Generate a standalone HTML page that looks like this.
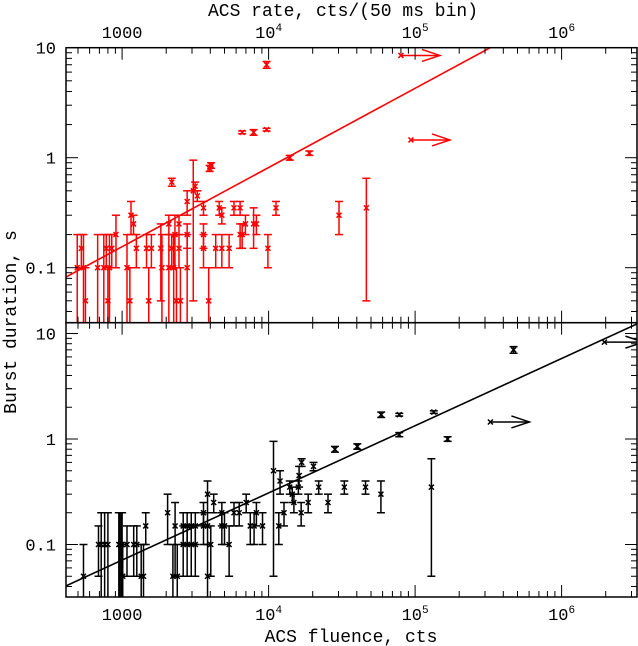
<!DOCTYPE html>
<html><head><meta charset="utf-8"><style>
body{margin:0;background:#fff;}
svg{display:block;font-family:"Liberation Mono",monospace;}
</style></head><body>
<svg id="chart" width="638" height="646" viewBox="0 0 638 646" xmlns="http://www.w3.org/2000/svg">
<g id="g"></g>
</svg>
<script>
// Top panel (red): ACS rate vs duration: [x, y, err]
const rateX = [494,527,545,562,681,750,780,800,820,850,908,1080,1150,1197,1251,1130,1468,1520,1585,1838,1870,2085,2085,2183,2183,2250,2295,2350,2445,2445,2500,2780,2780,2780,3060,3150,3263,3594,3594,3594,3956,4050,3900,4355,4600,4796,4796,5376,5805,6390,6390,6600,6950,6600,7900,7900,8255,9690,9690,9890,11230,13950,18970,30250,46480];
const rateY = [0.1,0.15,0.1,0.05,0.1,0.1,0.15,0.05,0.1,0.15,0.2,0.1,0.3,0.25,0.15,0.05,0.15,0.05,0.15,0.15,0.1,0.25,0.1,0.6,0.15,0.1,0.2,0.05,0.25,0.15,0.05,0.4,0.2,0.1,0.5,0.55,0.45,0.35,0.2,0.15,0.8,0.85,0.05,0.15,0.35,0.3,0.15,0.15,0.35,0.35,0.2,1.7,0.25,0.2,1.7,0.25,0.25,1.8,7,0.15,0.35,1.0,1.1,0.3,0.35];
const rateErr = [0.1,0.05,0.1,0.05,0.1,0.1,0.05,0.05,0.1,0.05,0.1,0.1,0.1,0.05,0.05,0.05,0.05,0.05,0.05,0.1,0.1,0.05,0.1,0.05,0.05,0.1,0.1,0.05,0.05,0.05,0.05,0.1,0.05,0.1,0.45,0.05,0.05,0.05,0.05,0.05,0.05,0.05,0.05,0.05,0.05,0.05,0.05,0.05,0.05,0.05,0.05,0.05,0.05,0.05,0.1,0.1,0.05,0.05,0.5,0.05,0.05,0.05,0.05,0.1,0.3];
const rateLimX = [80000,93700];
const rateLimY = [8.5,1.45];
const rateFit = [0.72, -1.085, 2.617]; // slope, logy at logx0, logx0

// Bottom panel (black): ACS fluence vs duration
const fluX = [545,690,720,760,800,950,970,990,1010,1000,1080,1200,1260,1350,1400,1450,2045,2222,2300,2380,2612,2612,2780,2780,2965,2965,3160,3160,3594,3594,3830,3830,3830,4030,4220,4796,4796,5000,5376,5805,6300,7030,7500,7960,8255,9090,10800,11740,11970,12740,13950,14500,14880,15960,16150,16680,16800,18630,20250,21980,25440,28360,32880,40310,45890,58440,58700,77960,77960,129200,134200,166700,470000];
const fluY = [0.05,0.1,0.1,0.1,0.1,0.1,0.1,0.1,0.05,0.1,0.1,0.1,0.1,0.05,0.05,0.15,0.2,0.05,0.15,0.05,0.15,0.1,0.1,0.15,0.1,0.15,0.1,0.15,0.15,0.2,0.3,0.05,0.15,0.1,0.25,0.15,0.2,0.15,0.1,0.2,0.2,0.25,0.15,0.15,0.2,0.15,0.5,0.15,0.4,0.2,0.35,0.3,0.25,0.35,0.45,0.2,0.6,0.25,0.55,0.35,0.25,0.8,0.35,0.85,0.35,0.3,1.7,1.7,1.1,0.35,1.8,1.0,7];
const fluErr = [0.05,0.05,0.1,0.1,0.1,0.1,0.1,0.1,0.05,0.1,0.05,0.05,0.05,0.05,0.05,0.05,0.1,0.05,0.1,0.05,0.05,0.05,0.05,0.05,0.05,0.05,0.05,0.05,0.05,0.05,0.1,0.05,0.05,0.05,0.05,0.05,0.05,0.05,0.05,0.05,0.05,0.05,0.05,0.05,0.05,0.05,0.45,0.05,0.1,0.05,0.05,0.05,0.05,0.05,0.1,0.05,0.05,0.05,0.05,0.05,0.05,0.05,0.05,0.05,0.05,0.1,0.1,0.05,0.05,0.3,0.05,0.05,0.5];
const fluLimX = [326600,1960000];
const fluLimY = [1.45,8.28];
const fluFit = [0.637, -1.392, 2.617];

const xTicks = ["1000","10^4","10^5","10^6"];
const yTicks = ["0.1","1","10"];

const NS="http://www.w3.org/2000/svg";
const G=document.getElementById('g');
function el(tag,attrs,parent){const e=document.createElementNS(NS,tag);for(const k in attrs)e.setAttribute(k,attrs[k]);(parent||G).appendChild(e);return e;}

const L=66,R=637;
function X(v){return 268.6+(Math.log10(v)-4)*146.5;}
const panels=[
 {top:47.7,bot:322.7,y1:157.7,dec:110,color:'#ff0000',xs:rateX,ys:rateY,es:rateErr,lx:rateLimX,ly:rateLimY,fit:rateFit,name:'rate'},
 {top:322.7,bot:597,y1:439,dec:105.5,color:'#000000',xs:fluX,ys:fluY,es:fluErr,lx:fluLimX,ly:fluLimY,fit:fluFit,name:'fluence'}
];

panels.forEach((p,pi)=>{
 const Y=v=>p.y1-Math.log10(v)*p.dec;
 const clip=el('clipPath',{id:'c'+pi});
 el('rect',{x:L,y:p.top,width:R-L,height:p.bot-p.top},clip);
 const pg=el('g',{'clip-path':'url(#c'+pi+')'});
 
 
 const fx0=(L-268.6)/146.5+4, fx1=(R-268.6)/146.5+4;
 const fy=lx=>Math.pow(10,p.fit[1]+p.fit[0]*(lx-p.fit[2]));
 const fl=el('line',{x1:L,y1:Y(fy(fx0)),x2:R,y2:Y(fy(fx1)),stroke:p.color,'stroke-width':1.6},pg);
 
 
 p.xs.forEach((xv,i)=>{
  const cx=X(xv), yv=p.ys[i], e=p.es[i];
  const yt=Y(yv+e); const lo=yv-e; const yb=lo>0?Y(lo):p.bot+5;
  const g=el('g',{stroke:p.color,'stroke-width':1.5,fill:'none'},pg);
  
  
  el('line',{x1:cx,y1:yt,x2:cx,y2:yb},g);
  el('line',{x1:cx-4,y1:yt,x2:cx+4,y2:yt},g);
  if(lo>0) el('line',{x1:cx-4,y1:yb,x2:cx+4,y2:yb},g);
  const cy=Y(yv);
  el('path',{d:`M${cx-2.5} ${cy-2.5}L${cx+2.5} ${cy+2.5}M${cx-2.5} ${cy+2.5}L${cx+2.5} ${cy-2.5}`},g);
 });
 p.lx.forEach((xv,i)=>{
  const cx=X(xv), cy=Y(p.ly[i]);
  const g=el('g',{stroke:p.color,'stroke-width':1.5,fill:'none'},pg);
  
  
  el('path',{d:`M${cx-2.5} ${cy-2.5}L${cx+2.5} ${cy+2.5}M${cx-2.5} ${cy+2.5}L${cx+2.5} ${cy-2.5}`},g);
  el('line',{x1:cx,y1:cy,x2:cx+39,y2:cy},g);
  el('path',{d:`M${cx+21} ${cy-6}L${cx+39} ${cy}L${cx+21} ${cy+6}`},g);
 });
 const fr=el('rect',{x:L,y:p.top,width:R-L,height:p.bot-p.top,fill:'none',stroke:'#000','stroke-width':1.5});
 
 
 for(let d=2;d<=6;d++){for(let m=1;m<10;m++){
  const v=m*Math.pow(10,d); const x=X(v); if(x<L||x>R)continue;
  const len=m===1?12:6;
  el('line',{x1:x,y1:p.top,x2:x,y2:p.top+len,stroke:'#000','stroke-width':1});
  el('line',{x1:x,y1:p.bot,x2:x,y2:p.bot-len,stroke:'#000','stroke-width':1});
 }}
 for(let d=-2;d<=1;d++){for(let m=1;m<10;m++){
  const v=m*Math.pow(10,d); const y=Y(v); if(y<p.top||y>p.bot)continue;
  const len=m===1?12:6;
  el('line',{x1:L,y1:y,x2:L+len,y2:y,stroke:'#000','stroke-width':1});
  el('line',{x1:R,y1:y,x2:R-len,y2:y,stroke:'#000','stroke-width':1});
 }}
 yTicks.forEach((t,i)=>{
  const y=Y(Math.pow(10,i-1)); if(y<p.top-3||y>p.bot)return;
  const tx=el('text',{x:56,y:y+6,'text-anchor':'end','font-size':17,fill:'#000'});
  tx.textContent=t;
  
  
 });
});

function xLabels(yb,nm){
 xTicks.forEach((t,i)=>{
  const x=X(Math.pow(10,i+3));
  const tx=el('text',{x:x,y:yb,'text-anchor':'middle','font-size':17,fill:'#000'});
  if(t.indexOf('^')>0){const [a,b]=t.split('^');tx.textContent=a;const s=el('tspan',{'font-size':11,dy:-7},tx);s.textContent=b;}
  else tx.textContent=t;
  
  
 });
}
xLabels(38,'top');
xLabels(620,'bottom');

const svg=document.getElementById('chart');
function addT(x,y,txt,nm,rot){const t=document.createElementNS(NS,'text');t.setAttribute('x',x);t.setAttribute('y',y);t.setAttribute('text-anchor','middle');t.setAttribute('font-size','18');if(rot)t.setAttribute('transform',rot);t.textContent=txt;


svg.appendChild(t);}
addT(343,16,'ACS rate, cts/(50 ms bin)','top-x-axis-title');
addT(351,642,'ACS fluence, cts','bottom-x-axis-title');
addT(0,0,'Burst duration, s','y-axis-title','translate(16,322) rotate(-90)');
</script>
</body></html>
